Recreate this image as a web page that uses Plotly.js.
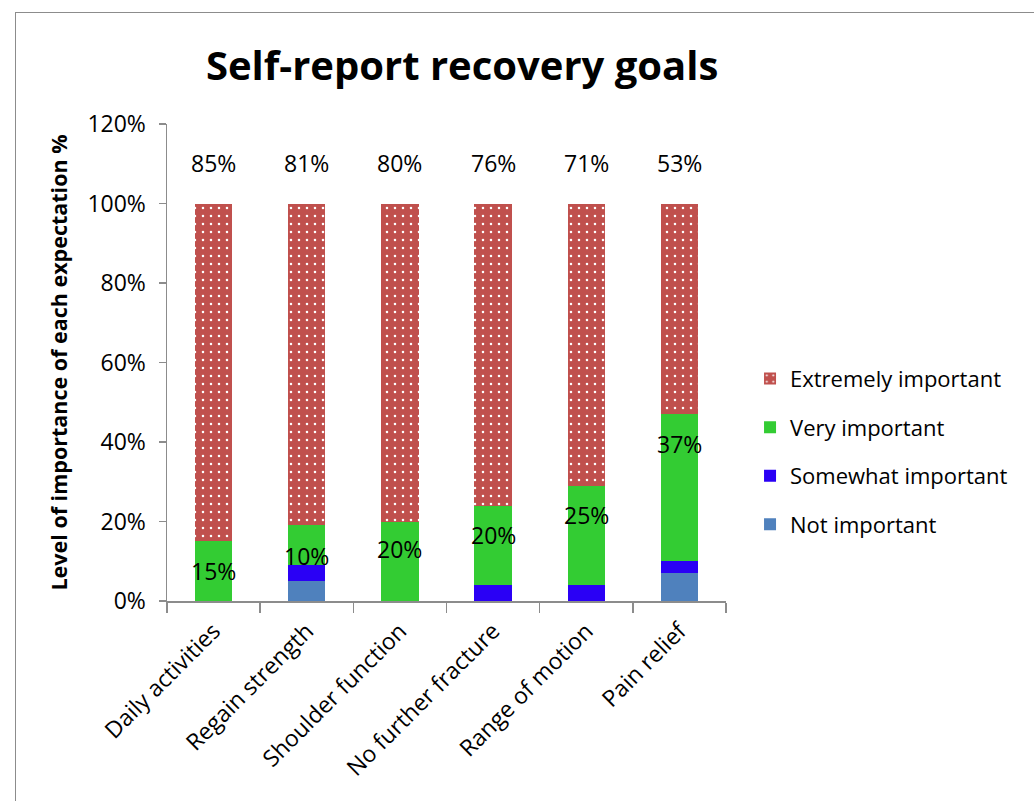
<!DOCTYPE html>
<html>
<head>
<meta charset="utf-8">
<script src="https://cdn.plot.ly/plotly-3.0.1.min.js"></script>
<style>
  html, body { margin: 0; padding: 0; background: #fff; }
  #wrap { position: relative; width: 1034px; height: 801px; overflow: hidden; }
  #chart { position: absolute; left: 0; top: 0; width: 1034px; height: 801px; }
  #frame { position: absolute; left: 15px; top: 12px; width: 1100px; height: 900px;
           border-left: 1.5px solid #8c8c8c; border-top: 1.5px solid #8c8c8c; pointer-events: none; }
</style>
</head>
<body>
<div id="wrap">
  <div id="chart"></div>
  <div id="frame"></div>
</div>
<script>
const categories = ["Daily activities", "Regain strength", "Shoulder function",
                    "No further fracture", "Range of motion", "Pain relief"];
const notImportant       = [0, 5, 0, 0, 0, 7];
const somewhatImportant  = [0, 4, 0, 4, 4, 3];
const veryImportant      = [15, 10, 20, 20, 25, 37];
const extremelyImportant = [85, 81, 80, 76, 71, 53];
const yTickValues = [0, 20, 40, 60, 80, 100, 120];
const yTickLabels = ["0%", "20%", "40%", "60%", "80%", "100%", "120%"];

// label nudges (pixels) for the "Very important" labels, as placed in the original
const veryLabelNudge = [0, -11, 12, 10, 20, 44];

const FONT = "Open Sans, Noto Sans, sans-serif";
const barWidth = 0.4;

const series = [
  { name: "Not important", y: notImportant, color: "#4F81BD", rank: 4 },
  { name: "Somewhat important", y: somewhatImportant, color: "#2A00F5", rank: 3 },
  { name: "Very important", y: veryImportant, color: "#33CC33", rank: 2 },
  { name: "Extremely important", y: extremelyImportant, color: "#C0504D", rank: 1, pattern: true }
];
const traces = series.map((s, i) => {
  const t = {
    type: "bar", x: categories, y: s.y, name: s.name, width: barWidth,
    legendgroup: "g" + i, legendrank: s.rank, hoverinfo: "x+y+name",
    marker: { color: s.color, line: { width: 0 } }
  };
  if (s.pattern) {
    t.marker.pattern = { shape: ".", bgcolor: "#C0504D", fgcolor: "#ffffff",
                         size: 8, solidity: 0.08, fillmode: "replace" };
  }
  return t;
});

const annotations = [];
categories.forEach((c, i) => {
  const base = notImportant[i] + somewhatImportant[i];
  annotations.push({
    x: c, y: base + veryImportant[i] / 2, xref: "x", yref: "y",
    yshift: veryLabelNudge[i],
    text: veryImportant[i] + "%", showarrow: false,
    font: { family: FONT, size: 23, color: "#000" }
  });
  annotations.push({
    x: c, y: 110.3, xref: "x", yref: "y",
    text: extremelyImportant[i] + "%", showarrow: false,
    font: { family: FONT, size: 23, color: "#000" }
  });
});

const layout = {
  width: 1034, height: 801,
  margin: { l: 167, r: 308, t: 124, b: 200 },
  paper_bgcolor: "#ffffff", plot_bgcolor: "#ffffff",
  barmode: "stack",
  font: { family: FONT, color: "#000" },
  title: {
    text: "<b>Self-report recovery goals</b>",
    font: { family: FONT, size: 40, color: "#000" },
    xref: "paper", x: 0.528, xanchor: "center",
    yref: "container", y: 0.917, yanchor: "middle"
  },
  xaxis: {
    type: "category",
    showgrid: false, zeroline: false,
    showline: true, linecolor: "#8c8c8c", linewidth: 1.5,
    ticks: "outside", tickson: "boundaries", ticklen: 10, tickcolor: "#8c8c8c", tickwidth: 1.5,
    tickangle: -45, ticklabelstandoff: 6,
    tickfont: { family: FONT, size: 23, color: "#000" }
  },
  yaxis: {
    range: [0, 120],
    tickvals: yTickValues, ticktext: yTickLabels,
    showgrid: false, zeroline: false,
    showline: true, linecolor: "#8c8c8c", linewidth: 1.5,
    ticks: "outside", ticklen: 7, tickcolor: "#8c8c8c", tickwidth: 1.5,
    ticklabelstandoff: 8,
    tickfont: { family: FONT, size: 23, color: "#000" },
    title: {
      text: "<b>Level of importance of each expectation %</b>",
      font: { family: FONT, size: 21.5, color: "#000" },
      standoff: 14
    }
  },
  legend: {
    x: 1.043, xanchor: "left", y: 0.51, yanchor: "top",
    traceorder: "grouped", tracegroupgap: 17,
    font: { family: FONT, size: 22, color: "#000" },
    bgcolor: "rgba(0,0,0,0)"
  },
  showlegend: true,
  annotations: annotations
};

Plotly.newPlot("chart", traces, layout, { displayModeBar: false, staticPlot: true });
</script>
</body>
</html>
